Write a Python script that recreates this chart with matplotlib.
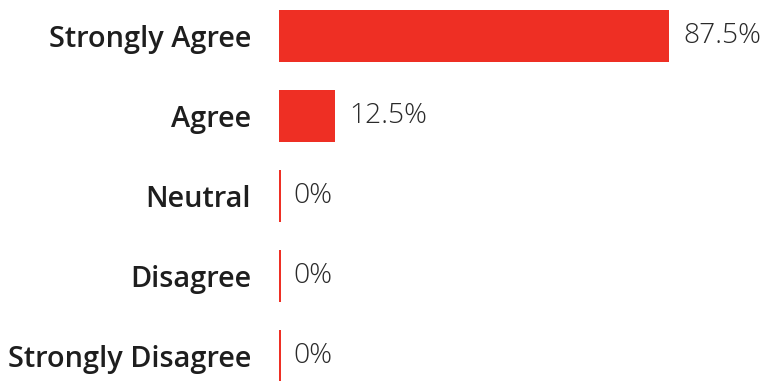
import matplotlib
matplotlib.use("Agg")
import matplotlib.pyplot as plt
import numpy as np

categories = ["Strongly Agree", "Agree", "Neutral", "Disagree", "Strongly Disagree"]
values = [87.5, 12.5, 0, 0, 0]
value_labels = ["87.5%", "12.5%", "0%", "0%", "0%"]

W, H = 768, 381
fig = plt.figure(figsize=(W / 100, H / 100), dpi=100)
left_px, right_px = 279, 725
ax = fig.add_axes([left_px / W, 0, (right_px - left_px) / W, 1])

y = np.arange(len(categories))
vals = np.array(values, dtype=float)
red = "#EE2F24"
shown = np.maximum(vals, 0.35)
ax.barh(y, shown, height=0.66, color=red, linewidth=0)

ax.set_xlim(0, 100)
ax.set_ylim((H - 36) / 80, -36 / 80)

vtexts = []
for yi, v, lab in zip(y, vals, value_labels):
    t = ax.annotate(lab, xy=(v, yi), xytext=(10.5, 0), textcoords="offset points",
                    va="center", ha="left", fontsize=17, color="#2a2a2a",
                    family="Open Sans", fontweight="light")
    vtexts.append(t)

ax.set_yticks(y)
ax.set_yticklabels(categories, fontsize=17, fontweight="semibold", family="Open Sans", color="#1e1e1e")
ax.tick_params(axis="y", length=0, pad=20)
ax.set_xticks([])
for s in ax.spines.values():
    s.set_visible(False)
ax.patch.set_alpha(0)

# scale fonts to match reference text widths
fig.canvas.draw()
r = fig.canvas.get_renderer()
lab = ax.get_yticklabels()[-1]
w = lab.get_window_extent(r).width
fs = 17 * 243 / w
for l in ax.get_yticklabels():
    l.set_fontsize(fs)
w2 = vtexts[0].get_window_extent(r).width
fs2 = 17 * 78 / w2
for t in vtexts:
    t.set_fontsize(fs2)
print(fs, fs2)

fig.savefig("out.png", dpi=100)
